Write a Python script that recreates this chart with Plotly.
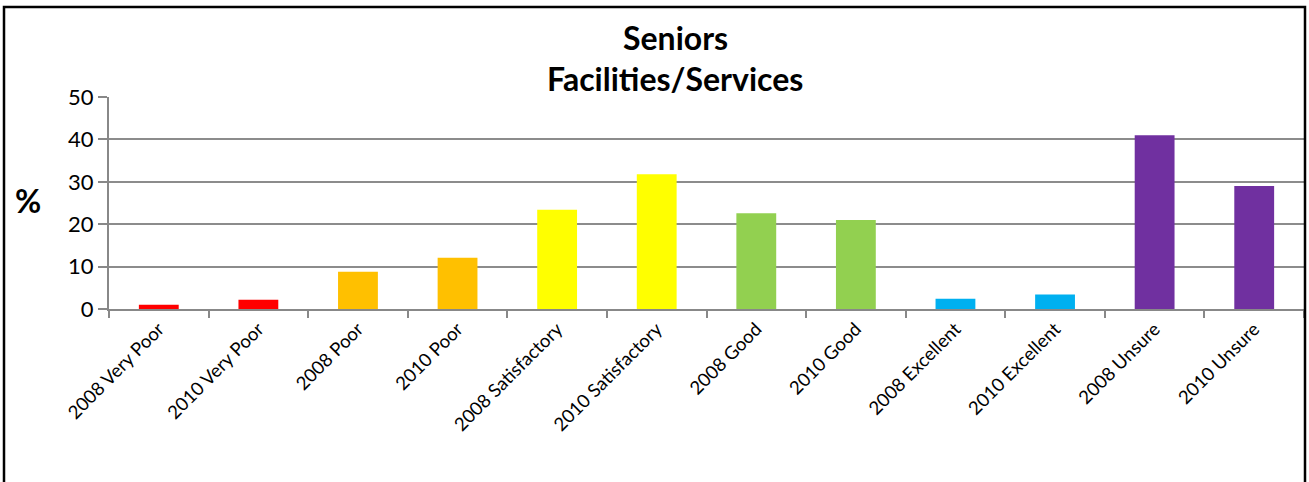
import plotly.graph_objects as go

categories = ["2008 Very Poor", "2010 Very Poor", "2008 Poor", "2010 Poor",
              "2008 Satisfactory", "2010 Satisfactory", "2008 Good", "2010 Good",
              "2008 Excellent", "2010 Excellent", "2008 Unsure", "2010 Unsure"]
values = [1.0, 2.2, 8.8, 12.1, 23.4, 31.8, 22.6, 21.0, 2.4, 3.4, 41.0, 29.0]
colors = ["#FF0000", "#FF0000", "#FFC000", "#FFC000", "#FFFF00", "#FFFF00",
          "#92D050", "#92D050", "#00B0F0", "#00B0F0", "#7030A0", "#7030A0"]
y_ticks = [0, 10, 20, 30, 40, 50]

FONT = "Lato, 'Open Sans', sans-serif"

fig = go.Figure(go.Bar(x=categories, y=values, marker=dict(color=colors, line=dict(width=0)),
                       width=0.4))

L, R, T, B = 109, 5, 97, 173
W, H = 1309, 482
pw = W - L - R
ph = H - T - B

fig.update_layout(
    width=W, height=H,
    margin=dict(l=L, r=R, t=T, b=B),
    plot_bgcolor="white", paper_bgcolor="white",
    showlegend=False,
    font=dict(family=FONT, color="black"),
    xaxis=dict(
        type="category", tickson="boundaries", ticks="outside", ticklen=7,
        tickcolor="#888888", tickwidth=2, tickangle=-45,
        showline=True, linecolor="#888888", linewidth=2,
        showgrid=False, tickfont=dict(size=18.5, color="black", family=FONT),
        range=[-0.5, 11.5],
    ),
    yaxis=dict(
        range=[0, 50], tickvals=y_ticks, ticks="outside", ticklen=9,
        tickcolor="#888888", tickwidth=2,
        showline=True, linecolor="#888888", linewidth=2,
        showgrid=True, gridcolor="#8C8C8C", gridwidth=2,
        tickfont=dict(size=22, color="black", family=FONT),
        zeroline=False,
    ),
    annotations=[
        dict(text="<b>Seniors</b>", xref="paper", yref="paper",
             x=(675 - L) / pw, y=(H - B - 37) / ph, showarrow=False,
             font=dict(size=32, family=FONT, color="black"), xanchor="center", yanchor="middle"),
        dict(text="<b>Facilities/Services</b>", xref="paper", yref="paper",
             x=(675 - L) / pw, y=(H - B - 79) / ph, showarrow=False,
             font=dict(size=32, family=FONT, color="black"), xanchor="center", yanchor="middle"),
        dict(text="<b>%</b>", xref="paper", yref="paper",
             x=(28 - L) / pw, y=(H - B - 200) / ph, showarrow=False,
             font=dict(size=32, family=FONT, color="black"), xanchor="center", yanchor="middle"),
    ],
    shapes=[
        dict(type="rect", xref="paper", yref="paper",
             x0=(4 - L) / pw, x1=(1305 - L) / pw,
             y0=(H - B - 495) / ph, y1=(H - B - 7) / ph,
             line=dict(color="black", width=2.5), fillcolor="rgba(0,0,0,0)", layer="above"),
    ],
)

fig.write_html("out.html", config={"displayModeBar": False},
               post_script="document.body.style.margin='0';document.body.style.overflow='hidden';")
